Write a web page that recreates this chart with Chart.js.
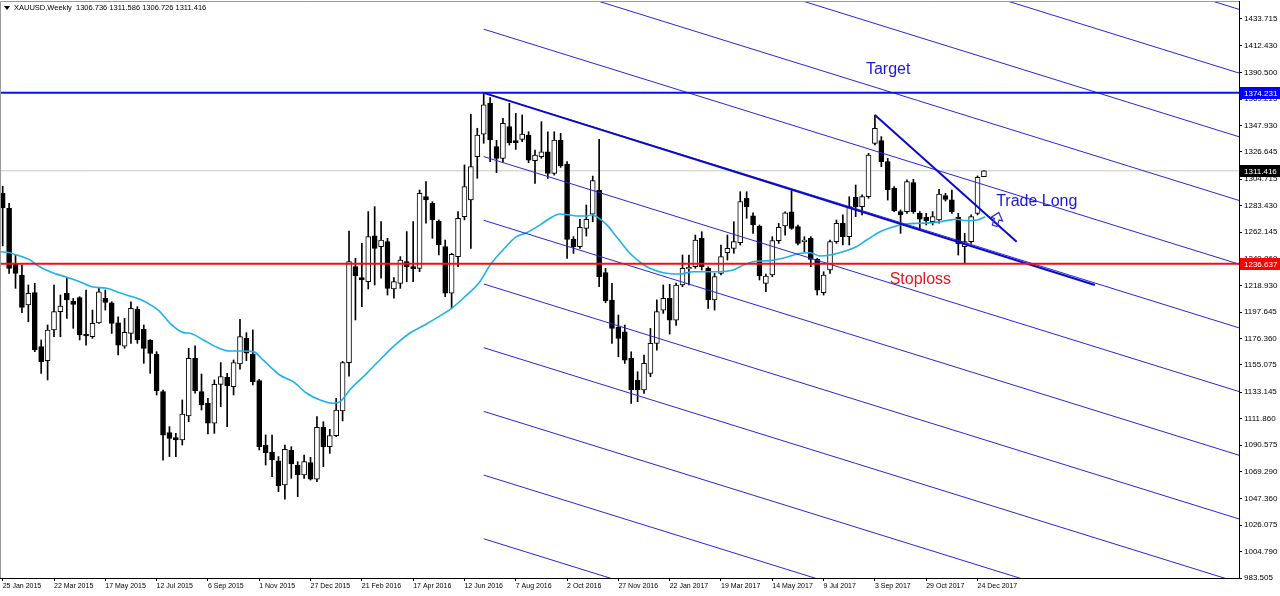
<!DOCTYPE html>
<html>
<head>
<meta charset="utf-8">
<script src="https://cdn.jsdelivr.net/npm/chart.js@4.4.1/dist/chart.umd.min.js"></script>
<style>
  html, body { margin: 0; padding: 0; background: #fff; }
  #wrap { width: 1280px; height: 596px; }
</style>
</head>
<body>
<div id="wrap"><canvas id="xau"></canvas></div>
<script>
// weekly bars, index 0 = week of 25 Jan 2015
const dateIdx = [0, 8, 16, 24, 32, 40, 48, 56, 64, 72, 80, 88, 96, 104, 112, 120, 128, 136, 144, 152];
const dateLabels = ['25 Jan 2015', '22 Mar 2015', '17 May 2015', '12 Jul 2015', '6 Sep 2015', '1 Nov 2015',
    '27 Dec 2015', '21 Feb 2016', '17 Apr 2016', '12 Jun 2016', '7 Aug 2016', '2 Oct 2016', '27 Nov 2016',
    '22 Jan 2017', '19 Mar 2017', '14 May 2017', '9 Jul 2017', '3 Sep 2017', '29 Oct 2017', '24 Dec 2017'];

const priceTicks = [983.505, 1004.790, 1026.075, 1047.360, 1069.290, 1090.575, 1111.860, 1133.145, 1155.075,
    1176.360, 1197.645, 1218.930, 1240.860, 1262.145, 1283.430, 1304.715, 1326.645, 1347.930, 1369.215,
    1390.500, 1412.430, 1433.715];

const opens = [
    1293.3, 1281.2, 1236.1, 1227.5, 1203.4, 1213.3, 1169.8, 1158.5, 1183.2, 1198.0,
    1212.8, 1206.6, 1209.3, 1179.7, 1177.8, 1189.0, 1208.7, 1205.2, 1189.0, 1170.3,
    1180.5, 1199.9, 1183.7, 1175.2, 1163.9, 1133.6, 1100.6, 1096.5, 1094.7, 1114.0,
    1160.5, 1133.6, 1124.2, 1108.1, 1139.5, 1145.2, 1137.6, 1155.9, 1176.6, 1163.9,
    1142.5, 1090.6, 1085.0, 1077.8, 1058.4, 1086.6, 1074.5, 1066.5, 1076.4, 1063.0,
    1104.9, 1089.3, 1098.2, 1118.0, 1157.0, 1234.3, 1225.4, 1222.2, 1259.0, 1250.4,
    1254.4, 1216.3, 1220.8, 1238.3, 1234.3, 1232.9, 1290.6, 1285.3, 1271.0, 1250.4,
    1212.8, 1242.3, 1274.6, 1288.0, 1322.9, 1340.9, 1365.8, 1330.9, 1321.5, 1347.0,
    1335.7, 1336.8, 1340.3, 1319.6, 1322.8, 1326.8, 1309.4, 1336.2, 1316.9, 1256.2,
    1250.3, 1265.1, 1276.6, 1296.0, 1229.4, 1207.3, 1185.3, 1181.8, 1160.4, 1142.9,
    1134.9, 1148.3, 1172.4, 1199.3, 1208.7, 1191.2, 1219.5, 1232.4, 1234.2, 1257.1,
    1232.9, 1207.4, 1228.9, 1245.5, 1249.0, 1253.6, 1289.3, 1275.1, 1267.0, 1220.8,
    1227.5, 1255.2, 1267.0, 1278.5, 1266.5, 1254.4, 1257.1, 1240.1, 1213.3, 1231.6,
    1254.4, 1269.2, 1258.4, 1290.1, 1282.6, 1290.6, 1333.6, 1335.7, 1318.8, 1297.4,
    1278.6, 1278.6, 1301.9, 1277.2, 1274.0, 1270.5, 1271.9, 1291.4, 1288.0, 1274.0,
    1250.3, 1254.4, 1277.2, 1306.736];
const highs = [
    1299.0, 1285.2, 1243.6, 1235.6, 1219.5, 1220.8, 1175.2, 1187.3, 1219.5, 1211.4,
    1224.8, 1208.7, 1210.1, 1215.4, 1199.3, 1216.8, 1215.4, 1206.0, 1193.9, 1192.6,
    1206.0, 1202.0, 1187.3, 1175.5, 1165.8, 1134.9, 1105.4, 1100.0, 1126.9, 1168.5,
    1170.4, 1147.8, 1128.2, 1143.0, 1157.0, 1148.4, 1159.1, 1191.9, 1181.1, 1183.3,
    1143.5, 1098.7, 1098.7, 1081.3, 1090.6, 1089.3, 1077.2, 1082.6, 1080.7, 1113.5,
    1109.4, 1103.3, 1128.2, 1158.0, 1263.0, 1241.0, 1253.0, 1278.6, 1282.6, 1270.5,
    1257.1, 1225.4, 1242.3, 1262.5, 1270.5, 1296.0, 1302.7, 1286.6, 1271.9, 1255.7,
    1245.0, 1278.6, 1316.2, 1357.0, 1345.7, 1374.2, 1370.4, 1336.0, 1353.7, 1365.8,
    1357.7, 1356.4, 1342.9, 1328.2, 1351.0, 1342.9, 1342.9, 1341.6, 1318.8, 1258.4,
    1272.3, 1283.9, 1307.2, 1336.8, 1232.9, 1220.8, 1195.3, 1187.2, 1165.7, 1149.6,
    1163.0, 1184.5, 1207.5, 1219.5, 1220.0, 1221.0, 1243.6, 1243.6, 1259.7, 1262.4,
    1234.2, 1228.9, 1251.7, 1259.7, 1270.5, 1294.6, 1294.6, 1277.7, 1267.8, 1228.3,
    1258.4, 1269.1, 1278.5, 1295.5, 1267.8, 1258.4, 1258.4, 1241.0, 1230.2, 1255.7,
    1271.8, 1275.9, 1290.6, 1300.0, 1292.0, 1325.5, 1356.4, 1339.0, 1321.5, 1298.7,
    1279.9, 1304.1, 1304.6, 1278.6, 1277.2, 1278.6, 1296.5, 1293.3, 1296.0, 1277.2,
    1261.1, 1275.9, 1307.3, 1311.586];
const lows = [
    1251.0, 1228.9, 1216.8, 1197.2, 1189.9, 1165.8, 1148.3, 1143.0, 1177.8, 1177.8,
    1192.6, 1184.6, 1175.2, 1171.1, 1176.5, 1188.6, 1199.3, 1180.5, 1163.1, 1168.5,
    1172.5, 1172.5, 1156.4, 1148.3, 1130.9, 1078.5, 1081.3, 1081.3, 1090.6, 1109.4,
    1132.3, 1118.8, 1099.5, 1100.0, 1121.5, 1105.4, 1130.9, 1151.6, 1158.6, 1139.0,
    1086.6, 1074.5, 1065.1, 1053.0, 1046.9, 1063.8, 1049.0, 1063.8, 1062.4, 1061.1,
    1073.2, 1083.9, 1097.4, 1110.0, 1146.0, 1191.3, 1202.0, 1216.3, 1219.5, 1224.9,
    1211.4, 1208.8, 1216.8, 1222.2, 1222.2, 1230.2, 1269.2, 1257.1, 1243.7, 1210.1,
    1200.7, 1234.3, 1271.9, 1249.0, 1305.4, 1333.6, 1318.8, 1310.0, 1318.8, 1332.2,
    1328.7, 1334.9, 1318.0, 1301.3, 1321.5, 1305.4, 1308.0, 1314.2, 1240.9, 1244.9,
    1249.0, 1258.9, 1270.4, 1218.1, 1205.2, 1172.4, 1161.7, 1156.3, 1124.1, 1125.5,
    1132.2, 1145.6, 1167.0, 1196.6, 1180.0, 1187.0, 1218.1, 1219.5, 1232.9, 1231.6,
    1200.7, 1199.3, 1227.5, 1239.6, 1245.0, 1251.7, 1273.2, 1261.1, 1223.5, 1214.1,
    1226.2, 1253.0, 1259.7, 1264.3, 1251.7, 1246.3, 1234.2, 1211.4, 1211.4, 1228.9,
    1253.0, 1251.7, 1251.7, 1274.5, 1275.9, 1289.3, 1332.2, 1314.8, 1287.9, 1278.6,
    1261.1, 1277.2, 1277.2, 1264.3, 1267.8, 1267.8, 1269.2, 1287.1, 1277.2, 1243.6,
    1236.6, 1253.0, 1275.9, 1306.726];
const closes = [
    1281.5, 1232.9, 1228.9, 1201.5, 1212.8, 1167.1, 1157.7, 1183.2, 1198.0, 1202.6,
    1207.4, 1203.9, 1179.2, 1178.4, 1188.6, 1214.0, 1205.5, 1188.6, 1171.1, 1181.3,
    1200.7, 1175.2, 1168.5, 1164.4, 1134.4, 1098.6, 1096.0, 1094.7, 1115.6, 1160.5,
    1134.4, 1122.9, 1108.1, 1139.5, 1145.7, 1138.4, 1157.0, 1177.9, 1164.5, 1141.7,
    1089.3, 1084.5, 1078.6, 1057.6, 1087.2, 1075.4, 1066.5, 1077.2, 1063.0, 1104.9,
    1089.3, 1098.2, 1118.8, 1157.0, 1238.3, 1227.0, 1223.5, 1258.4, 1249.0, 1255.7,
    1216.8, 1222.2, 1239.6, 1234.3, 1232.4, 1293.3, 1288.0, 1271.9, 1251.7, 1212.8,
    1244.2, 1273.2, 1298.7, 1314.8, 1340.3, 1364.5, 1336.3, 1321.5, 1349.7, 1334.1,
    1334.1, 1341.1, 1320.1, 1324.1, 1326.8, 1309.4, 1336.2, 1315.3, 1256.2, 1250.3,
    1265.9, 1272.3, 1303.5, 1226.1, 1206.8, 1184.5, 1176.4, 1159.0, 1134.9, 1134.9,
    1156.3, 1172.4, 1198.0, 1208.7, 1191.2, 1219.5, 1232.9, 1233.7, 1255.7, 1234.2,
    1207.4, 1226.2, 1242.3, 1249.0, 1254.4, 1286.6, 1282.6, 1267.8, 1226.7, 1226.7,
    1255.2, 1265.9, 1277.7, 1265.1, 1253.0, 1255.7, 1240.1, 1215.4, 1227.5, 1254.4,
    1269.1, 1258.4, 1282.6, 1282.6, 1290.6, 1324.2, 1345.7, 1318.8, 1296.0, 1279.4,
    1275.9, 1302.7, 1278.6, 1272.4, 1271.3, 1274.5, 1292.8, 1288.5, 1278.6, 1252.5,
    1254.4, 1274.5, 1306.2, 1311.416];

// moving average (bar position, price)
const maIdx = [-0.4, 1.1, 2.2, 4.3, 5.3, 7.4, 10, 12, 13.9, 16.2, 17.8, 19.3, 21.4, 23.5, 24.5, 26.1, 28.2,
    29.2, 31.3, 33.4, 35.4, 37.5, 39.1, 40.6, 43.2, 45.3, 47.4, 49.5, 51.5, 52.6, 54.1, 56.5, 58.8, 61.2,
    63.5, 65.8, 69, 70, 71.8, 74.4, 76, 78, 80.1, 81.7, 83.8, 85.3, 86.9, 88.2, 89.5, 91.1, 91.8, 92.6,
    94.2, 95.7, 97.8, 99.6, 100.9, 103, 105.6, 107.7, 111.8, 113.9, 115.5, 117, 119.6, 122.2, 124.3,
    125.9, 127.4, 129, 131, 133.1, 134.7, 136.8, 138.9, 140.9, 143, 145.1, 147.2, 148.7, 150.3, 151.9, 153.2];
const maVal = [1246.3, 1245.5, 1243.6, 1239.5, 1235.6, 1230.2, 1225.7, 1222.1, 1218.1, 1216.8, 1214.1,
    1211.4, 1208.0, 1202.0, 1198.0, 1188.6, 1181.1, 1180.6, 1175.2, 1169.3, 1166.3, 1166.3, 1165.8, 1159.1,
    1147.0, 1141.6, 1132.3, 1126.9, 1124.2, 1125.5, 1134.9, 1147.0, 1159.1, 1171.2, 1180.8, 1187.3, 1197.2,
    1200.7, 1208.8, 1222.1, 1235.6, 1247.7, 1258.4, 1261.6, 1267.9, 1273.2, 1276.7, 1276.0, 1275.1, 1275.1,
    1276.0, 1274.5, 1267.9, 1258.4, 1245.0, 1237.0, 1232.9, 1229.4, 1228.3, 1230.2, 1230.2, 1231.6, 1235.6,
    1238.2, 1239.1, 1241.8, 1245.0, 1245.5, 1242.8, 1243.6, 1246.3, 1250.3, 1255.7, 1262.4, 1266.4, 1268.6,
    1269.2, 1269.7, 1271.3, 1272.4, 1271.3, 1271.8, 1274.5];

// channel lines: price at bar 75 and at bar 193
const channelFrom = 75, channelTo = 193;
const channelStartPrices = [1630.7, 1579.4, 1528.1, 1476.8, 1425.5, 1374.2, 1322.9, 1271.6, 1220.3, 1169.0, 1117.7, 1066.4, 1015.1];
const channelEndPrices = [1441.1, 1389.8, 1338.5, 1287.2, 1235.9, 1184.6, 1133.3, 1082.0, 1030.7, 979.4, 928.1, 876.8, 825.5];

const trendIdx = [75, 170.3], trendVal = [1374.2, 1219.5];
const wedgeIdx = [136, 158.1], wedgeVal = [1356.4, 1254.4];

const targetLevel = 1374.231, stopLevel = 1236.637, lastPrice = 1311.416;

const notes = [
    { text: 'Target', i: 134.6, p: 1392.6, color: '#1a1ad2' },
    { text: 'Trade Long', i: 154.9, p: 1286.3, color: '#1a1ad2' },
    { text: 'Stoploss', i: 138.3, p: 1223.5, color: '#e8141e' }
];
const arrowAt = { i: 155, p: 1272.5 };

const datasets = [];

function hline(v, color, w, order) {
    datasets.push({ type: 'line', data: [{ x: -5, y: v }, { x: 200, y: v }], borderColor: color, borderWidth: w, pointRadius: 0, order: order });
}
hline(lastPrice, '#c8c8c8', 1, 6);
hline(targetLevel, '#0a10e6', 2, 0);
hline(stopLevel, '#ee1111', 2, 0);

channelStartPrices.forEach((p, k) => {
    datasets.push({
        type: 'line',
        data: [{ x: channelFrom, y: p }, { x: channelTo, y: channelEndPrices[k] }],
        borderColor: '#2626e0', borderWidth: 1, pointRadius: 0, order: 1
    });
});

datasets.push({
    type: 'line',
    data: trendIdx.map((x, k) => ({ x: x, y: trendVal[k] })),
    borderColor: '#0a0ac8', borderWidth: 2, pointRadius: 0, order: 0
});
datasets.push({
    type: 'line',
    data: wedgeIdx.map((x, k) => ({ x: x, y: wedgeVal[k] })),
    borderColor: '#0a0ac8', borderWidth: 2, pointRadius: 0, order: 0
});

datasets.push({
    type: 'line',
    data: maIdx.map((x, k) => ({ x: x, y: maVal[k] })),
    borderColor: '#1eb2ea', borderWidth: 1.6, pointRadius: 0,
    cubicInterpolationMode: 'monotone', order: 1
});

datasets.push({
    type: 'bar',
    data: opens.map((o, i) => ({ x: i, y: [o, closes[i]] })),
    barThickness: 5,
    grouped: false,
    minBarLength: 1,
    borderWidth: 1,
    borderSkipped: false,
    borderColor: '#000',
    backgroundColor: (ctx) => closes[ctx.dataIndex] >= opens[ctx.dataIndex] ? '#fff' : '#000',
    order: 3
});
datasets.push({
    type: 'bar',
    data: highs.map((h, i) => ({ x: i, y: [lows[i], h] })),
    barThickness: 1,
    grouped: false,
    borderWidth: 0,
    backgroundColor: '#000',
    order: 4
});

const extras = {
    id: 'extras',
    afterDraw(chart) {
        const c = chart.ctx, a = chart.chartArea;
        const xs = chart.scales.x, ys = chart.scales.y;
        c.save();
        // frame
        c.strokeStyle = '#9a9a9a';
        c.lineWidth = 1;
        c.beginPath();
        c.moveTo(a.left + 0.5, a.bottom);
        c.lineTo(a.left + 0.5, a.top + 0.5);
        c.lineTo(a.right, a.top + 0.5);
        c.stroke();

        // notes
        c.font = '16px "Liberation Sans", Arial, sans-serif';
        c.textBaseline = 'middle';
        c.textAlign = 'left';
        notes.forEach(n => {
            c.fillStyle = n.color;
            c.fillText(n.text, xs.getPixelForValue(n.i), ys.getPixelForValue(n.p));
        });

        // arrow
        const ax = xs.getPixelForValue(arrowAt.i), ay = ys.getPixelForValue(arrowAt.p);
        c.translate(ax, ay);
        c.rotate(0.3);
        c.strokeStyle = '#2a2ad8';
        c.lineWidth = 1.2;
        c.beginPath();
        c.moveTo(0, -7);
        c.lineTo(6, 0);
        c.lineTo(2.5, 0);
        c.lineTo(2.5, 7);
        c.lineTo(-2.5, 7);
        c.lineTo(-2.5, 0);
        c.lineTo(-6, 0);
        c.closePath();
        c.stroke();
        c.setTransform(1, 0, 0, 1, 0, 0);

        // header
        c.fillStyle = '#000';
        c.beginPath();
        c.moveTo(4, 6); c.lineTo(10, 6); c.lineTo(7, 10); c.closePath();
        c.fill();
        c.font = '7.5px "Liberation Sans", Arial, sans-serif';
        c.textBaseline = 'middle';
        c.fillText('XAUUSD,Weekly  1306.736 1311.586 1306.726 1311.416', 14, 8);

        // price boxes on the right axis
        const boxes = [[targetLevel, '#0000ff'], [lastPrice, '#000000'], [stopLevel, '#ff0000']];
        c.font = '8px "Liberation Sans", Arial, sans-serif';
        boxes.forEach(([v, col]) => {
            const y = Math.round(ys.getPixelForValue(v));
            c.fillStyle = col;
            c.fillRect(a.right + 1, y - 6, 1280 - a.right - 1, 12);
            c.fillStyle = '#fff';
            c.fillText(v.toFixed(3), a.right + 5, y + 0.5);
        });
        c.restore();
    }
};

new Chart(document.getElementById('xau'), {
    type: 'bar',
    data: { datasets: datasets },
    options: {
        responsive: true,
        maintainAspectRatio: false,
        animation: false,
        events: [],
        layout: { padding: { top: 1, left: 0, right: 0, bottom: 0 } },
        plugins: {
            legend: { display: false },
            tooltip: { enabled: false }
        },
        scales: {
            x: {
                type: 'linear',
                min: -0.42,
                max: 192.77,
                offset: false,
                afterFit(s) { s.height = 18; s.paddingLeft = 0; s.paddingRight = 0; },
                afterBuildTicks(s) { s.ticks = dateIdx.map(v => ({ value: v })); },
                grid: { drawOnChartArea: false, drawTicks: true, tickLength: 3, color: '#000', offset: false },
                border: { display: true, color: '#000' },
                ticks: {
                    autoSkip: false,
                    maxRotation: 0,
                    align: 'start',
                    padding: 1,
                    color: '#000',
                    font: { family: 'Liberation Sans', size: 7 },
                    callback: (v) => dateLabels[dateIdx.indexOf(v)]
                }
            },
            y: {
                type: 'linear',
                position: 'right',
                min: 983.505,
                max: 1448.2,
                afterFit(s) { s.width = 41; s.paddingTop = 0; s.paddingBottom = 0; },
                afterBuildTicks(s) { s.ticks = priceTicks.map(v => ({ value: v })); },
                grid: { drawOnChartArea: false, drawTicks: true, tickLength: 3, color: '#000' },
                border: { display: true, color: '#000' },
                ticks: {
                    padding: 2,
                    color: '#000',
                    font: { family: 'Liberation Sans', size: 8 },
                    callback: (v) => v.toFixed(3)
                }
            }
        }
    },
    plugins: [extras]
});
</script>
</body>
</html>
